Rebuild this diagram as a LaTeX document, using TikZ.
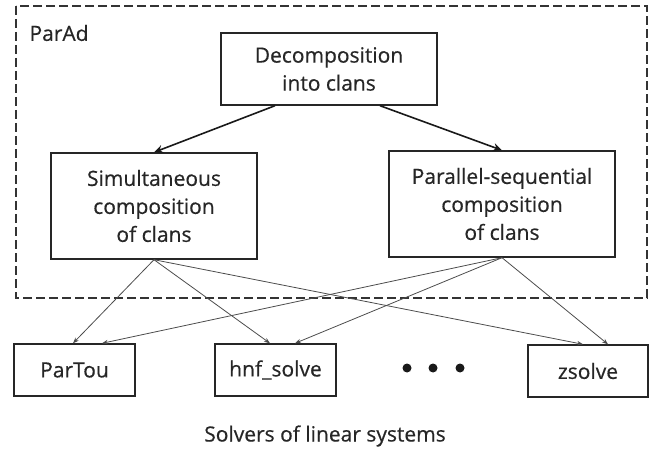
\documentclass[tikz,border=0pt]{standalone}
\usepackage{fontspec}
\setmainfont{Open Sans}[FakeBold=0.5]
\usetikzlibrary{arrows.meta}
\begin{document}
\begin{tikzpicture}[x=1pt,y=-1pt,
  txt/.style={font=\fontsize{21}{28}\selectfont,text=black!85},
  box/.style={txt,draw=black!85,line width=1.4pt,align=center,inner sep=0pt},
  thick arrow/.style={draw=black!90,line width=1.6pt,-{Stealth[length=9pt,width=8pt]}},
  thin arrow/.style={draw=black!70,line width=0.8pt,-{Stealth[length=6pt,width=4.5pt]}},
  frame/.style={draw=black!80,line width=1.6pt,dash pattern=on 9pt off 4pt}]
\useasboundingbox (0,0) rectangle (660,454);
\draw[frame] (16,6) rectangle (647,298);
\node[txt,anchor=west] (parad) at (26,33) {ParAd};
\node[box,minimum width=216pt,minimum height=72pt] (dec) at (329,69) {Decomposition\\into clans};
\node[box,minimum width=206pt,minimum height=106pt] (sim) at (154,206) {Simultaneous\\composition\\of clans};
\node[box,minimum width=226pt,minimum height=106pt] (par) at (502,204) {Parallel-sequential\\composition\\of clans};
\node[box,minimum width=121pt,minimum height=52pt] (partou) at (74.5,370) {ParTou};
\node[box,minimum width=121pt,minimum height=52pt] (hnf) at (275.5,370) {hnf\_solve};
\node[box,minimum width=120pt,minimum height=52pt] (zs) at (588,371) {zsolve};
\foreach \x/\n in {407/d1,433/d2,460/d3}{\fill[black!90] (\x,368) circle (4.5pt) coordinate (\n);}
\node[txt] (cap) at (325,436) {Solvers of linear systems};
\draw[thick arrow] ([xshift=-54pt]dec.south) -- (sim.north);
\draw[thick arrow] ([xshift=51pt]dec.south) -- (par.north);
\draw[thin arrow] (sim.south) -- ([xshift=-1.5pt]partou.north);
\draw[thin arrow] (sim.south) -- ([xshift=-5.5pt]hnf.north);
\draw[thin arrow] (sim.south) -- ([xshift=-5pt]zs.north);
\draw[thin arrow] (par.south) -- ([xshift=27.5pt]partou.north);
\draw[thin arrow] (par.south) -- ([xshift=19.5pt]hnf.north);
\draw[thin arrow] (par.south) -- ([xshift=20pt]zs.north);
\end{tikzpicture}
\end{document}
